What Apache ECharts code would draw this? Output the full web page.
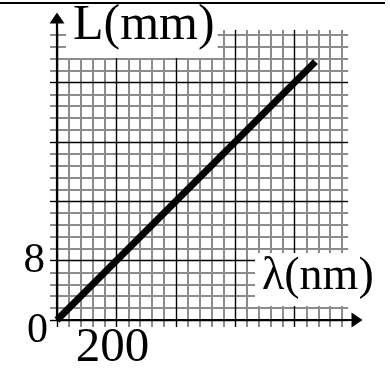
<!DOCTYPE html>
<html><head><meta charset="utf-8">
<script src="https://cdn.jsdelivr.net/npm/echarts@6/dist/echarts.min.js"></script>
<style>html,body{margin:0;padding:0;background:#fff}#c{width:390px;height:372px}</style>
</head><body><div id="c"></div>
<script>
// L against wavelength: a straight line through the origin
const lambdaNm = [0, 870];
const lengthMm = [0, 34.8];
const xTickLabels = [200];
const yTickLabels = [8];
const originLabel = '0';
const xName = 'λ(nm)';
const yName = 'L(mm)';

// graph-paper ruling: 5 small cells per major division, 24 cells each way
const X_MAJOR = 200, Y_MAJOR = 8, MINOR_PER_MAJOR = 5, PAPER_CELLS = 24;

const OX = 57, OY = 320, MAJOR_PX = 59.4;
const CELL_PX = MAJOR_PX / MINOR_PER_MAJOR;
const PAPER_PX = PAPER_CELLS * CELL_PX;
const AXIS_W = 300, AXIS_H = 302;
const xMax = AXIS_W / MAJOR_PX * X_MAJOR;
const yMax = AXIS_H / MAJOR_PX * Y_MAJOR;

const cells = Array.from({length: PAPER_CELLS + 1}, (_, i) => String(i));
const isMajor = i => i % MINOR_PER_MAJOR === 0;
const isMinor = i => !isMajor(i);
const SERIF = '"Liberation Serif", "DejaVu Serif", "Times New Roman", serif';
const GRAY = '#8c8c8c';
const MINOR_W = 2, MAJOR_W = 1.4;

// one set of rulings (minor or major) on the paper grid, with short overhangs past the edge
function rule(position, pick, color, width, overhang, withLines, z) {
  return {
    type: 'category', gridIndex: 0, data: cells, boundaryGap: false, position, z,
    axisLine: {show: false},
    axisLabel: {show: false},
    axisTick: {show: true, length: overhang, inside: false, interval: (i) => pick(i),
               lineStyle: {color, width}},
    splitLine: {show: withLines, interval: (i) => pick(i), lineStyle: {color, width}},
    silent: true
  };
}

const axisLineStyle = {
  show: true, symbol: ['none', 'triangle'], symbolSize: [15, 11],
  lineStyle: {color: '#000', width: 2.2}
};

const chart = echarts.init(document.getElementById('c'), null, {renderer: 'canvas'});
chart.setOption({
  animation: false,
  backgroundColor: '#fff',
  grid: [
    {left: OX, top: OY - PAPER_PX, width: PAPER_PX, height: PAPER_PX, outerBoundsMode: 'none'},
    {left: OX, top: OY - AXIS_H, width: AXIS_W, height: AXIS_H, outerBoundsMode: 'none'}
  ],
  xAxis: [
    rule('bottom', isMinor, GRAY, MINOR_W, 7, true, 0),
    rule('bottom', isMajor, '#000', MAJOR_W, 7, true, 1),
    rule('top', isMinor, GRAY, MINOR_W, 5, false, 0),
    rule('top', isMajor, '#000', MAJOR_W, 5, false, 1),
    {
      type: 'value', gridIndex: 1, min: 0, max: xMax, interval: X_MAJOR, z: 3,
      axisLine: axisLineStyle, axisTick: {show: false}, splitLine: {show: false},
      axisLabel: {
        formatter: v => xTickLabels.includes(v) ? String(v) : '',
        fontFamily: SERIF, fontSize: 49, color: '#000', margin: 4, padding: [0, 8, 0, 0]
      }
    }
  ],
  yAxis: [
    rule('left', isMinor, GRAY, MINOR_W, 7, true, 0),
    rule('left', isMajor, '#000', MAJOR_W, 7, true, 1),
    rule('right', isMinor, GRAY, MINOR_W, 6, false, 0),
    rule('right', isMajor, '#000', MAJOR_W, 6, false, 1),
    {
      type: 'value', gridIndex: 1, min: 0, max: yMax, interval: Y_MAJOR, z: 3,
      axisLine: axisLineStyle, axisTick: {show: false}, splitLine: {show: false},
      axisLabel: {
        formatter: v => yTickLabels.includes(v) ? String(v) : '',
        fontFamily: SERIF, fontSize: 43, color: '#000', margin: 12
      }
    }
  ],
  series: [{
    type: 'line', xAxisIndex: 4, yAxisIndex: 4, z: 5,
    data: lambdaNm.map((x, i) => [x, lengthMm[i]]),
    symbol: 'none', showSymbol: false,
    lineStyle: {color: '#000', width: 7, cap: 'butt'}
  }],
  graphic: [
    {type: 'text', x: 66, y: 0, z: 100, style: {
      text: yName, font: '50px ' + SERIF, fill: '#000',
      backgroundColor: '#fff', padding: [1, 3, 7, 7]}},
    {type: 'text', x: 255, y: 253, z: 100, style: {
      text: xName, font: '46px ' + SERIF, fill: '#000',
      backgroundColor: '#fff', padding: [1, 4, 6, 7]}},
    {type: 'text', x: 27, y: 310, z: 100, style: {
      text: originLabel, font: '42px ' + SERIF, fill: '#000'}},
    {type: 'line', z: 101, shape: {x1: 0, y1: 3, x2: 385, y2: 3},
      style: {stroke: '#000', lineWidth: 2}}
  ]
});
</script>
</body></html>
